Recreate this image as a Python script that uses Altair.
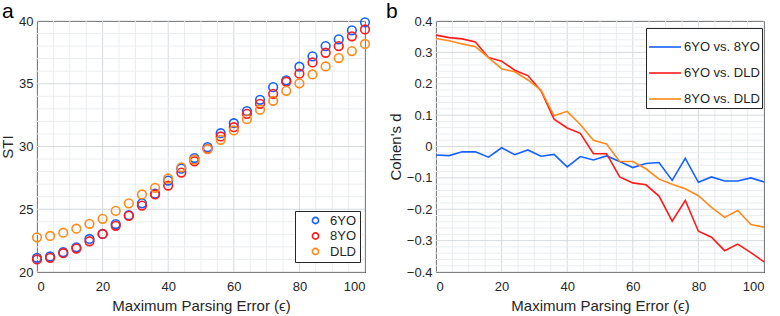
import altair as alt
import pandas as pd

# ---------------- data ----------------
max_err = [0, 4, 8, 12, 16, 20, 24, 28, 32, 36, 40, 44, 48, 52, 56, 60, 64, 68, 72, 76, 80, 84, 88, 92, 96, 100]

sti_6yo = [21.13, 21.24, 21.58, 21.97, 22.63, 23.03, 23.82, 24.53, 25.47, 26.24, 27.29, 28.24, 29.08,
           29.95, 31.06, 31.86, 32.82, 33.72, 34.73, 35.27, 36.36, 37.18, 38.00, 38.54, 39.26, 39.90]
sti_8yo = [21.00, 21.13, 21.50, 21.87, 22.45, 23.03, 23.68, 24.47, 25.29, 26.18, 26.89, 27.92, 28.82,
           29.81, 30.80, 31.54, 32.60, 33.40, 34.20, 35.16, 35.80, 36.70, 37.47, 38.00, 38.78, 39.33]
sti_dld = [22.76, 22.87, 23.13, 23.45, 23.84, 24.24, 24.87, 25.47, 26.18, 26.71, 27.45, 28.34, 28.95,
           29.79, 30.53, 31.28, 32.18, 32.93, 33.64, 34.44, 35.03, 35.74, 36.38, 37.05, 37.60, 38.17]

d_6yo_8yo = [-0.027, -0.029, -0.017, -0.017, -0.034, -0.004, -0.026, -0.011, -0.031, -0.025, -0.065, -0.032, -0.043,
             -0.030, -0.048, -0.067, -0.054, -0.051, -0.108, -0.038, -0.114, -0.097, -0.110, -0.110, -0.100, -0.113]
d_6yo_dld = [0.355, 0.347, 0.343, 0.333, 0.284, 0.272, 0.243, 0.226, 0.178, 0.087, 0.059, 0.042, -0.023,
             -0.023, -0.097, -0.116, -0.122, -0.158, -0.238, -0.172, -0.270, -0.289, -0.332, -0.311, -0.338, -0.368]
d_8yo_dld = [0.344, 0.337, 0.327, 0.318, 0.283, 0.248, 0.238, 0.212, 0.180, 0.098, 0.112, 0.070, 0.020,
             0.008, -0.048, -0.048, -0.071, -0.104, -0.120, -0.135, -0.157, -0.194, -0.226, -0.204, -0.249, -0.257]

groups_a = ["6YO", "8YO", "DLD"]
groups_b = ["6YO vs. 8YO", "6YO vs. DLD", "8YO vs. DLD"]
colors = ["#1560FF", "#FF1A1A", "#FF8A1A"]

x_major = [0, 20, 40, 60, 80, 100]
x_minor = [5, 10, 15, 25, 30, 35, 45, 50, 55, 65, 70, 75, 85, 90, 95]
ya_major = [20, 25, 30, 35, 40]
ya_minor = [21, 22, 23, 24, 26, 27, 28, 29, 31, 32, 33, 34, 36, 37, 38, 39]
yb_major = [-0.4, -0.3, -0.2, -0.1, 0, 0.1, 0.2, 0.3, 0.4]
yb_minor = [-0.38, -0.36, -0.34, -0.32, -0.28, -0.26, -0.24, -0.22, -0.18, -0.16, -0.14, -0.12,
            -0.08, -0.06, -0.04, -0.02, 0.02, 0.04, 0.06, 0.08, 0.12, 0.14, 0.16, 0.18,
            0.22, 0.24, 0.26, 0.28, 0.32, 0.34, 0.36, 0.38]

rows_a = []
for g, vals in zip(groups_a, [sti_6yo, sti_8yo, sti_dld]):
    for x, v in zip(max_err, vals):
        rows_a.append({"x": x, "y": v, "g": g})
df_a = pd.DataFrame(rows_a)

rows_b = []
for g, vals in zip(groups_b, [d_6yo_8yo, d_6yo_dld, d_8yo_dld]):
    for x, v in zip(max_err, vals):
        rows_b.append({"x": x, "y": v, "g": g})
df_b = pd.DataFrame(rows_b)

FONT = "Liberation Sans"
TXT = "#262626"
MAJ = "#d6dadd"
MIN = "#eaedef"
W, H = 328, 251
XTITLE = "Maximum Parsing Error (\u03f5)"


def axis(values, title, label_expr=None, lp=4, tp=3):
    kw = dict(values=values, grid=False, ticks=False, domain=False, labelOverlap=False,
              title=title, labelFont=FONT, labelFontSize=13, labelColor=TXT,
              titleFont=FONT, titleFontSize=15, titleColor=TXT, titleFontWeight="normal",
              labelPadding=lp, titlePadding=tp)
    if label_expr:
        kw["labelExpr"] = label_expr
    return alt.Axis(**kw)


def grid_layers(xs, ys, xax, yax, xvals_minor, xvals_major, yvals_minor, yvals_major):
    out = []
    for vals, col in [(xvals_minor, MIN), (xvals_major, MAJ)]:
        out.append(alt.Chart(pd.DataFrame({"v": vals})).mark_rule(color=col, strokeWidth=1).encode(
            x=alt.X("v:Q", scale=xs, axis=xax)))
    for vals, col in [(yvals_minor, MIN), (yvals_major, MAJ)]:
        out.append(alt.Chart(pd.DataFrame({"v": vals})).mark_rule(color=col, strokeWidth=1).encode(
            y=alt.Y("v:Q", scale=ys, axis=yax)))
    return out


# ---------------- panel a ----------------
xs_a = alt.Scale(domain=[0, 100], nice=False, padding=0, zero=False)
ys_a = alt.Scale(domain=[20, 40], nice=False, padding=0, zero=False)
xax_a = axis(x_major, XTITLE, lp=8, tp=5)
yax_a = axis(ya_major, "STI")

pts_a = alt.Chart(df_a).mark_point(shape="circle", filled=False, size=75, strokeWidth=1.6, opacity=1).encode(
    x=alt.X("x:Q", scale=xs_a, axis=xax_a),
    y=alt.Y("y:Q", scale=ys_a, axis=yax_a),
    color=alt.Color("g:N", scale=alt.Scale(domain=groups_a, range=colors),
                    legend=alt.Legend(title=None, orient="none", legendX=258, legendY=190,
                                      strokeColor=TXT, fillColor="white", padding=3,
                                      rowPadding=1.5, symbolOffset=11, labelOffset=8,
                                      symbolSize=38, symbolStrokeWidth=1.6, symbolType="circle",
                                      symbolFillColor="transparent",
                                      labelFont=FONT, labelFontSize=13, labelColor=TXT,
                                      labelExpr="datum.label + '\u00a0\u00a0\u00a0'")),
)
panel_a = alt.layer(
    *grid_layers(xs_a, ys_a, xax_a, yax_a, x_minor, x_major, ya_minor, ya_major), pts_a
).properties(
    width=W, height=H,
    title=alt.TitleParams("a", anchor="start", frame="group", dx=-35, dy=10, fontSize=21, font=FONT,
                          fontWeight="normal", color="black", offset=3),
)

# ---------------- panel b ----------------
xs_b = alt.Scale(domain=[0, 100], nice=False, padding=0, zero=False)
ys_b = alt.Scale(domain=[-0.4, 0.4], nice=False, padding=0)
xax_b = axis(x_major, XTITLE, lp=8, tp=5)
yax_b = axis(yb_major, "Cohen's d",
             label_expr="datum.value == 0 ? '0' : format(datum.value, '.1f')")

lines_b = alt.Chart(df_b).mark_line(strokeWidth=1.6).encode(
    x=alt.X("x:Q", scale=xs_b, axis=xax_b),
    y=alt.Y("y:Q", scale=ys_b, axis=yax_b),
    color=alt.Color("g:N", scale=alt.Scale(domain=groups_b, range=colors),
                    legend=alt.Legend(title=None, orient="none", legendX=210, legendY=7,
                                      strokeColor=TXT, fillColor="white", padding=2,
                                      rowPadding=2, symbolOffset=0, labelOffset=2,
                                      symbolType="stroke", symbolSize=1024, symbolStrokeWidth=1.6,
                                      labelFont=FONT, labelFontSize=13, labelColor=TXT)),
)
panel_b = alt.layer(
    *grid_layers(xs_b, ys_b, xax_b, yax_b, x_minor, x_major, yb_minor, yb_major), lines_b
).properties(
    width=W, height=H,
    title=alt.TitleParams("b", anchor="start", frame="group", dx=-50, dy=10, fontSize=21, font=FONT,
                          fontWeight="normal", color="black", offset=3),
)

chart = alt.hconcat(panel_a, panel_b, spacing=71, bounds="flush").resolve_scale(
    color="independent"
).properties(
    padding={"left": 0, "top": 0, "right": 0, "bottom": 0}
).configure_view(stroke=TXT, strokeWidth=1)

chart.save("out.html", embed_options={"renderer": "svg", "actions": False})
